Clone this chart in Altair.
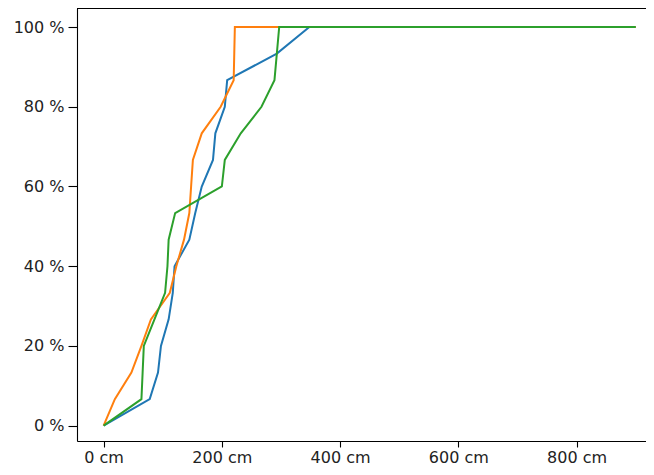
import altair as alt
import pandas as pd

steps = [k / 15 * 100 for k in range(16)] + [100.0]

blue_x = [0, 78, 92, 97, 110, 117, 120, 145, 155, 166, 185, 189, 205, 209, 293, 348, 900]
orange_x = [0, 19, 47, 64, 80, 112, 123, 136, 145, 148, 151, 166, 198, 220, 221, 222, 900]
green_x = [0, 64, 66, 68, 86, 104, 108, 110, 121, 200, 205, 232, 267, 289, 293, 297, 900]

series_names = ["blue", "orange", "green"]
series_colors = ["#1f77b4", "#ff7f0e", "#2ca02c"]
x_ticks = [0, 200, 400, 600, 800]
y_ticks = [0, 20, 40, 60, 80, 100]

rows = []
for name, xs in zip(series_names, [blue_x, orange_x, green_x]):
    for i, (xv, yv) in enumerate(zip(xs, steps)):
        rows.append({"series": name, "idx": i, "x": xv, "y": yv})
df = pd.DataFrame(rows)

W, H = 569, 433
FONT = "DejaVu Sans"

lines = alt.Chart(df).mark_line(strokeWidth=2, clip=True).encode(
    x=alt.X("x:Q", scale=alt.Scale(domain=[-45.0, 917.4], nice=False, zero=False),
            axis=alt.Axis(values=x_ticks, labelExpr="datum.value + ' cm'", title=None, grid=False,
                          tickSize=6, labelPadding=2, domainColor="black", tickColor="black",
                          labelColor="#222", labelFontSize=16, labelFont=FONT, domainWidth=1.1,
                          tickWidth=1.1, labelFlush=False)),
    y=alt.Y("y:Q", scale=alt.Scale(domain=[-3.84, 104.77], nice=False, zero=False),
            axis=alt.Axis(values=y_ticks, labelExpr="datum.value + ' %'", title=None, grid=False,
                          tickSize=9, labelPadding=4, domainColor="black", tickColor="black",
                          labelColor="#222", labelFontSize=16, labelFont=FONT, domainWidth=1.1,
                          tickWidth=1.1, labelFlush=False)),
    color=alt.Color("series:N", scale=alt.Scale(domain=series_names, range=series_colors), legend=None),
    order=alt.Order("idx:Q"),
    detail="series:N",
)

top_rule = alt.Chart(df).mark_rule(color="black", strokeWidth=1.1).encode(
    x=alt.value(0), x2=alt.value(W), y=alt.value(0)
)

chart = alt.layer(lines, top_rule).properties(
    width=W, height=H,
    autosize=alt.AutoSizeParams(type="none"),
    padding={"left": 69, "top": 0, "right": 0, "bottom": 26},
).configure_view(stroke=None).configure(background="white")

chart.save("out.html", embed_options={"renderer": "svg", "actions": False})
